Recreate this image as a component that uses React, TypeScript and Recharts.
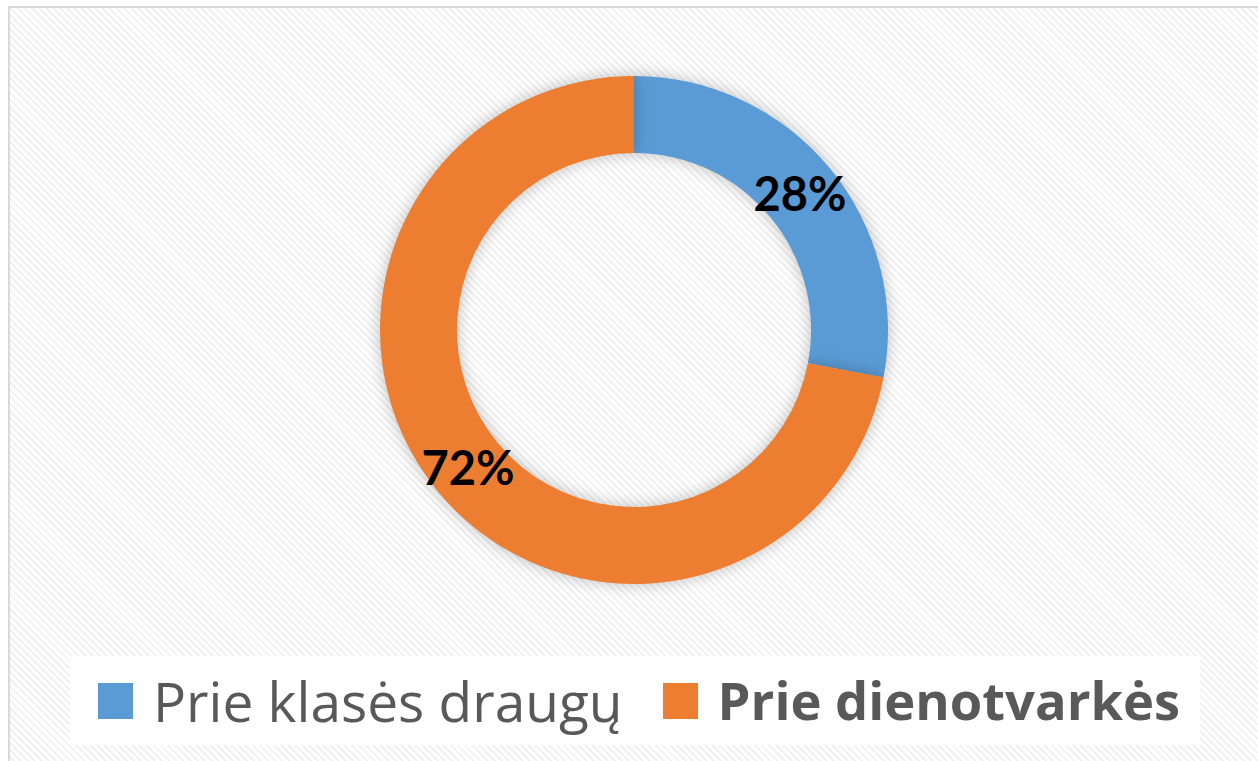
import React from "react"
import { PieChart, Pie, Cell, Legend } from "recharts"

const categories = ["Prie klasės draugų", "Prie dienotvarkės"]
const shares = [28, 72]
const colors = ["#5B9BD5", "#ED7D31"]
const legendBold = [false, true]
const legendSize = [55, 52.5]

const data = categories.map((name, i) => ({ name, value: shares[i] }))

const RADIAN = Math.PI / 180

function renderLabel(props: any) {
  const { cx, cy, midAngle, innerRadius, outerRadius, value } = props
  const r = (innerRadius + outerRadius) / 2
  const x = cx + r * Math.cos(-midAngle * RADIAN)
  const y = cy + r * Math.sin(-midAngle * RADIAN)
  return (
    <text
      x={x}
      y={y}
      textAnchor="middle"
      dominantBaseline="central"
      fill="#000000"
      fontFamily="Lato"
      fontWeight={700}
      fontSize={47}
    >
      {`${value}%`}
    </text>
  )
}

function LegendBox() {
  return (
    <div
      style={{
        width: "100%",
        height: "100%",
        boxSizing: "border-box",
        paddingLeft: 28,
        background: "#ffffff",
        display: "flex",
        alignItems: "center",
        justifyContent: "flex-start",
        gap: 40,
        fontFamily: "'Open Sans'",
        lineHeight: 1,
        color: "#595959",
      }}
    >
      {categories.map((c, i) => (
        <div key={c} style={{ display: "flex", alignItems: "center" }}>
          <span
            style={{
              display: "inline-block",
              width: 35,
              height: 36,
              background: colors[i],
              marginRight: 20,
            }}
          />
          <span style={{ fontWeight: legendBold[i] ? 700 : 400, fontSize: legendSize[i] }}>{c}</span>
        </div>
      ))}
    </div>
  )
}

export default function App() {
  return (
    <div
      style={{
        position: "fixed",
        left: 8,
        top: 6,
        width: 1270,
        height: 780,
        boxSizing: "border-box",
        border: "2px solid #d9d9d9",
        background:
          "repeating-linear-gradient(45deg, #ffffff 0px, #ffffff 3px, #f1f1f1 3px, #f1f1f1 5px)",
        overflow: "hidden",
      }}
    >
      <style>{`.recharts-pie-sector path { filter: drop-shadow(0 0 8px rgba(0,0,0,0.25)); }`}</style>
      <PieChart width={1266} height={776}>
        <Pie
          data={data}
          dataKey="value"
          nameKey="name"
          cx={619}
          cy={317}
          innerRadius={177}
          outerRadius={254}
          startAngle={90}
          endAngle={-270}
          stroke="none"
          label={renderLabel}
          labelLine={false}
          isAnimationActive={false}
        >
          {data.map((d, i) => (
            <Cell key={d.name} fill={colors[i]} />
          ))}
        </Pie>
        <Legend
          content={() => <LegendBox />}
          wrapperStyle={{ left: 60, top: 648, width: 1130, height: 89 }}
        />
      </PieChart>
    </div>
  )
}
